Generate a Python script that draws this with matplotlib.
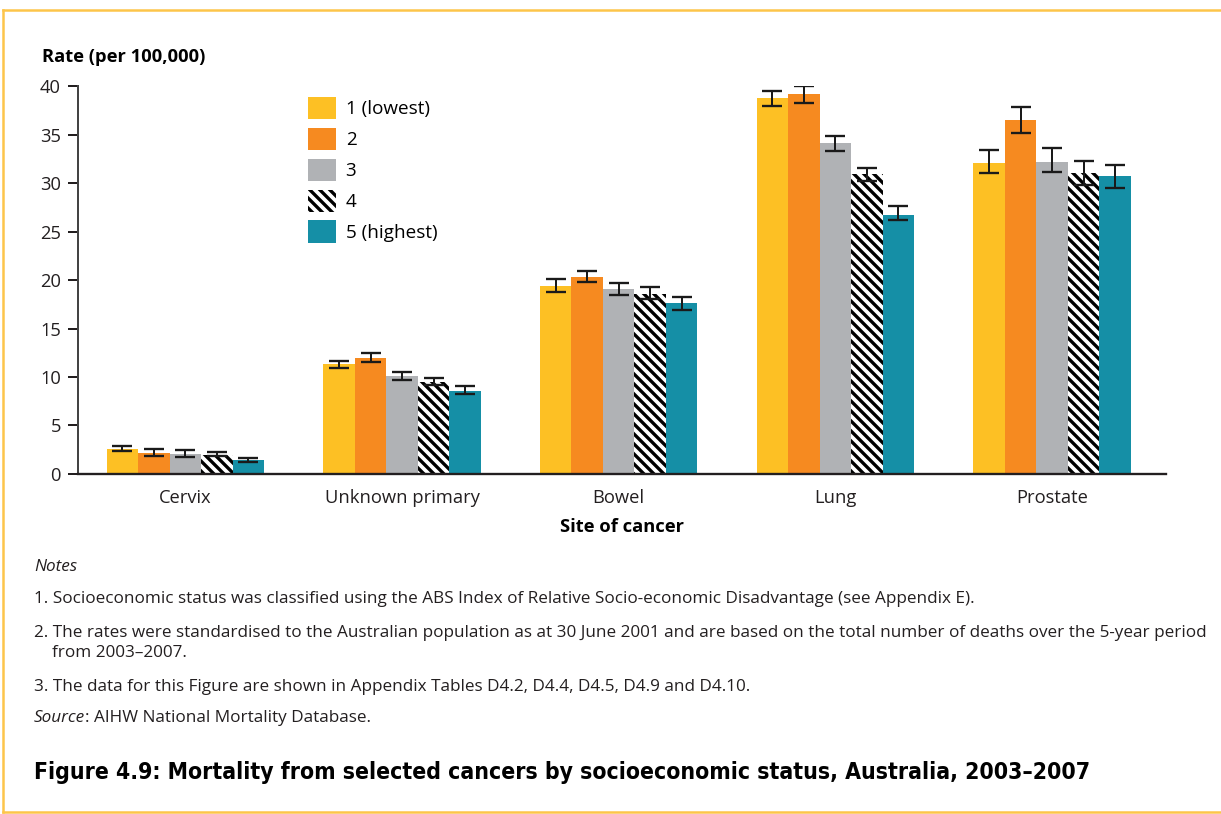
import numpy as np
import matplotlib.pyplot as plt
from matplotlib.lines import Line2D
from matplotlib import font_manager

sites = ["Cervix", "Unknown primary", "Bowel", "Lung", "Prostate"]
groups = ["1 (lowest)", "2", "3", "4", "5 (highest)"]

# rate per 100,000 for each socioeconomic group, by site
q1 = [2.6, 11.3, 19.4, 38.8, 32.1]
q2 = [2.2, 12.0, 20.3, 39.2, 36.5]
q3 = [2.1, 10.1, 19.1, 34.1, 32.2]
q4 = [2.0, 9.5, 18.6, 30.9, 31.0]
q5 = [1.4, 8.6, 17.6, 26.7, 30.7]

# confidence interval bounds
q1_lo = [2.4, 10.9, 18.8, 37.9, 31.0]
q1_hi = [2.85, 11.7, 20.1, 39.5, 33.4]
q2_lo = [1.9, 11.5, 19.8, 38.2, 35.2]
q2_hi = [2.6, 12.5, 20.9, 40.0, 37.8]
q3_lo = [1.8, 9.7, 18.5, 33.3, 31.1]
q3_hi = [2.5, 10.5, 19.7, 34.9, 33.65]
q4_lo = [1.85, 9.15, 18.0, 30.2, 29.8]
q4_hi = [2.3, 9.9, 19.3, 31.6, 32.3]
q5_lo = [1.27, 8.2, 16.9, 26.2, 29.5]
q5_hi = [1.65, 9.05, 18.3, 27.6, 31.9]

series = [q1, q2, q3, q4, q5]
lows = [q1_lo, q2_lo, q3_lo, q4_lo, q5_lo]
highs = [q1_hi, q2_hi, q3_hi, q4_hi, q5_hi]
colors = ["#FDC024", "#F68A20", "#B0B2B5", "white", "#158FA6"]

plt.rcParams['font.family'] = ['Open Sans', 'DejaVu Sans']
plt.rcParams['hatch.linewidth'] = 2.0

# pick a narrow bold face for the title if one is around
title_font = dict(family="Roboto", fontsize=12.5)
for fam, stretch in [("Liberation Sans Narrow", "normal"), ("DejaVu Sans", "condensed")]:
    fp = font_manager.FontProperties(family=fam, weight="bold", stretch=stretch)
    try:
        path = font_manager.findfont(fp, fallback_to_default=False)
    except Exception:
        continue
    if "Narrow" in path or "Condensed" in path:
        title_font = dict(family=fam, fontstretch=stretch, fontsize=13.7)
        break

fig = plt.figure(figsize=(1221 / 120, 814 / 120), dpi=120)
ax = fig.add_axes([0.0636, 0.4177, 0.8914, 0.4766])

x = np.arange(len(sites))
w = 0.1454
for i in range(5):
    pos = x + (i - 2) * w
    vals = np.array(series[i])
    if i == 3:
        ax.bar(pos, vals, w, color="white", edgecolor="black", hatch="\\\\\\\\",
               linewidth=0, label=groups[i])
    else:
        ax.bar(pos, vals, w, color=colors[i], linewidth=0, label=groups[i])
    err = [vals - np.array(lows[i]), np.array(highs[i]) - vals]
    ax.errorbar(pos, vals, yerr=err, fmt="none", ecolor="#1a1a1a",
                elinewidth=1.2, capsize=6, capthick=1.4)

ax.set_xlim(-0.497, 4.526)
ax.set_ylim(0, 40)
ax.set_yticks(range(0, 41, 5))
ax.set_xticks(x)
ax.set_xticklabels(sites)
ax.tick_params(axis="x", length=0, pad=9, labelsize=11, colors="#231f20")
ax.tick_params(axis="y", length=6, width=1.2, pad=4, labelsize=11, colors="#231f20")
for s in ["top", "right"]:
    ax.spines[s].set_visible(False)
ax.spines["left"].set_color("#444")
ax.spines["left"].set_linewidth(1.2)
ax.spines["bottom"].set_color("#231f20")
ax.spines["bottom"].set_linewidth(1.4)

ax.set_xlabel("Site of cancer", fontsize=11, fontweight="bold", labelpad=6.5)
fig.text(42 / 1221, 1 - 57 / 814, "Rate (per 100,000)", fontsize=11,
         fontweight="bold", va="center", ha="left")

ax.legend(loc="upper left", bbox_to_anchor=(308 / 1221, 1 - 97 / 814),
          bbox_transform=fig.transFigure, frameon=False, fontsize=11.3,
          handlelength=1.5, handleheight=1.45, handletextpad=0.5,
          labelspacing=0.45, borderpad=0, borderaxespad=0)

notes = [
    (567, "Notes", "italic"),
    (599, "1. Socioeconomic status was classified using the ABS Index of Relative Socio-economic Disadvantage (see Appendix E).", "normal"),
    (633, "2. The rates were standardised to the Australian population as at 30 June 2001 and are based on the total number of deaths over the 5-year period", "normal"),
    (653, "    from 2003\u20132007.", "normal"),
    (687, "3. The data for this Figure are shown in Appendix Tables D4.2, D4.4, D4.5, D4.9 and D4.10.", "normal"),
]
for y, t, st in notes:
    fig.text(34 / 1221, 1 - y / 814, t, fontsize=10.25, style=st, va="center", ha="left",
             color="#231f20")
src = fig.text(34 / 1221, 1 - 718 / 814, "Source", fontsize=10.25, style="italic",
               va="center", ha="left", color="#231f20")
fig.canvas.draw()
bb = src.get_window_extent()
fig.text(bb.x1 / fig.bbox.width, 1 - 718 / 814, ": AIHW National Mortality Database.",
         fontsize=10.25, va="center", ha="left", color="#231f20")

fig.text(34 / 1221, 1 - 773 / 814,
         "Figure 4.9: Mortality from selected cancers by socioeconomic status, Australia, 2003\u20132007",
         fontweight="bold", va="center", ha="left", color="black", **title_font)

border = "#FDC54A"
fig.add_artist(Line2D([3 / 1221, 1], [1 - 10 / 814, 1 - 10 / 814], color=border, lw=1.5))
fig.add_artist(Line2D([3 / 1221, 3 / 1221], [1 - 10 / 814, 1 - 812 / 814], color=border, lw=1.5))
fig.add_artist(Line2D([3 / 1221, 1], [1 - 812 / 814, 1 - 812 / 814], color=border, lw=1.5))

fig.savefig("out.png", dpi=120)
